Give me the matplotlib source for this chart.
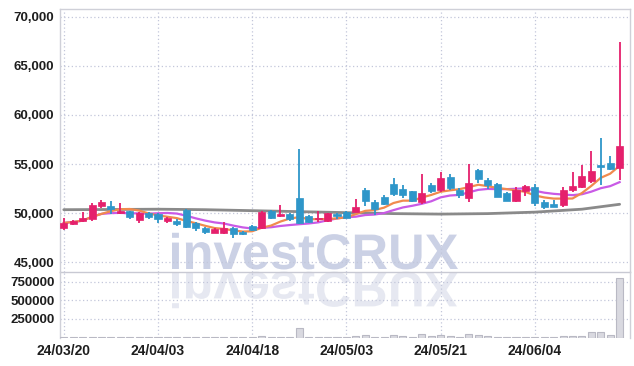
import numpy as np
import pandas as pd
import matplotlib
matplotlib.use("Agg")
import matplotlib.pyplot as plt
from matplotlib.textpath import TextPath
from matplotlib.patches import PathPatch
from matplotlib.font_manager import FontProperties
from matplotlib.transforms import Affine2D
from matplotlib.ticker import FuncFormatter

# ---------------- data ----------------
opens = [48500, 48900, 49200, 49400, 50700, 50700, 50000, 50200, 49300, 50000,
         49900, 49200, 49200, 50300, 48950, 48500, 48000, 47950, 48450, 48100,
         48700, 48450, 50200, 49700, 49900, 51500, 49700, 49400, 49200, 49900,
         50150, 50150, 52350, 51100, 51650, 52950, 52450, 52250, 51150, 52850,
         52350, 53650, 52400, 51500, 54400, 53350, 52950, 52100, 51250, 52300,
         52650, 51150, 50950, 50800, 52350, 52700, 53250, 54850, 55150, 54550]
highs = [49500, 49300, 50100, 51000, 51300, 51200, 51000, 50250, 50100, 50150,
         50050, 49650, 49350, 50400, 49100, 48600, 48500, 49100, 48600, 48200,
         48800, 50200, 50300, 50800, 50000, 56500, 49800, 50250, 50050, 50000,
         50200, 51400, 52550, 51300, 51800, 53550, 52850, 52300, 54000, 53100,
         54150, 53950, 52600, 55050, 54450, 53550, 53100, 52150, 52650, 52850,
         53000, 51350, 51300, 52650, 54200, 54900, 56300, 57700, 55800, 67400]
lows = [48300, 48800, 49100, 49200, 50500, 49900, 49950, 49400, 49000, 49450,
        48950, 49000, 48700, 48500, 48200, 47900, 47950, 47900, 47500, 47750,
        48150, 48400, 49450, 49650, 49200, 48900, 49000, 49100, 49100, 49400,
        49500, 50100, 50700, 49800, 50800, 51700, 51500, 51150, 50900, 52000,
        52200, 52350, 51500, 51150, 53050, 52500, 51600, 51200, 51150, 51750,
        50700, 50450, 50600, 50650, 52150, 52600, 53100, 52850, 54400, 53350]
closes = [49000, 49200, 49500, 50800, 51100, 50400, 50200, 49600, 50000, 49650,
          49400, 49500, 48900, 48600, 48450, 48100, 48350, 48450, 47850, 47850,
          48250, 50150, 49550, 49900, 49400, 48950, 49100, 49550, 50000, 49700,
          49550, 50650, 51250, 50400, 50950, 51900, 51850, 51250, 52000, 52250,
          53550, 52550, 51850, 53050, 53450, 52850, 51650, 51250, 52350, 52750,
          51000, 50650, 50650, 52350, 52800, 53800, 54300, 54750, 54450, 56850]
volumes = [8000, 6000, 7000, 12000, 9000, 6000, 5000, 6000, 8000, 5000,
           6000, 5000, 5000, 10000, 6000, 5000, 5000, 8000, 6000, 5000,
           6000, 20000, 9000, 8000, 7000, 130000, 8000, 9000, 8000, 6000,
           7000, 20000, 30000, 12000, 10000, 30000, 20000, 12000, 50000, 15000,
           30000, 15000, 10000, 45000, 30000, 20000, 10000, 8000, 12000, 10000,
           12000, 8000, 6000, 15000, 20000, 20000, 80000, 80000, 35000, 800000]
# long moving average (MA60) every 5 sessions
ma60_idx = [0, 5, 10, 15, 20, 25, 30, 35, 40, 45, 50, 55, 59]
ma60_val = [50350, 50370, 50400, 50350, 50250, 50150, 50050, 49950, 49900, 49950, 50100, 50400, 50900]

tick_idx = [0, 10, 20, 30, 40, 50]
tick_labels = ["24/03/20", "24/04/03", "24/04/18", "24/05/03", "24/05/21", "24/06/04"]
price_ticks = [45000, 50000, 55000, 60000, 65000, 70000]
volume_ticks = [250000, 500000, 750000]

# ---------------- styling ----------------
UP = "#e5206c"
DOWN = "#2e96c9"
MA5_C = "#f08a4e"
MA10_C = "#c95ae6"
MA60_C = "#8a8a8a"
GRID_C = "#c3c7da"
SPINE_C = "#cfd0d8"
TEXT_C = "#1e1e1e"

W, H = 634, 366
fig = plt.figure(figsize=(W / 100, H / 100), dpi=100)
fig.patch.set_facecolor("white")

left, right = 60, 630
p_top, p_bot = 9, 272
v_bot = 337.5

def fy(y):
    return 1 - y / H

# watermark layer (behind the charts)
wm = fig.add_axes([0, 0, 1, 1], zorder=0)
wm.set_xlim(0, W)
wm.set_ylim(H, 0)
wm.axis("off")
fp = FontProperties(family="Liberation Sans", weight="bold")
tp = TextPath((0, 0), "investCRUX", size=50, prop=fp)
bb = tp.get_extents()
sx = 286 / bb.width
base_y = 269
tr = Affine2D().scale(sx, -1.0).translate(172 - bb.x0 * sx, base_y)
wm.add_patch(PathPatch(tr.transform_path(tp), facecolor="#c6cce3", edgecolor="none", alpha=0.9))
tr2 = Affine2D().scale(sx, 1.0).translate(172 - bb.x0 * sx, base_y + 3)
wm.add_patch(PathPatch(tr2.transform_path(tp), facecolor="#e0e3ee", edgecolor="none", alpha=0.8))

axp = fig.add_axes([left / W, fy(p_bot), (right - left) / W, (p_bot - p_top) / H], zorder=2)
axv = fig.add_axes([left / W, fy(v_bot), (right - left) / W, (v_bot - p_bot) / H], zorder=2, sharex=axp)
for ax in (axp, axv):
    ax.set_facecolor("none")
    for s in ax.spines.values():
        s.set_color(SPINE_C)
        s.set_linewidth(1.0)

x = np.arange(len(closes))
o = np.array(opens, float)
c = np.array(closes, float)
hi = np.array(highs, float)
lo = np.array(lows, float)
up = c >= o
cols = np.where(up, UP, DOWN)

# grid
for ax in (axp, axv):
    ax.grid(True, color=GRID_C, linestyle=(0, (1, 2)), linewidth=0.9)
    ax.set_axisbelow(True)

# moving averages
ma5 = pd.Series(c).rolling(5, min_periods=1).mean()
ma10 = pd.Series(c).rolling(10, min_periods=1).mean()
axp.plot(ma60_idx, ma60_val, color=MA60_C, lw=2.0, zorder=3, solid_capstyle="round")
axp.plot(x, ma10, color=MA10_C, lw=1.6, zorder=3)
axp.plot(x, ma5, color=MA5_C, lw=1.6, zorder=3)

# candles
axp.vlines(x, lo, hi, colors=cols, lw=1.3, zorder=4)
body_h = np.maximum(np.abs(c - o), 120)
axp.bar(x, body_h, bottom=np.minimum(o, c), width=0.75, color=cols, edgecolor=cols, lw=0.5, zorder=5)

axp.set_ylim(44000, 70800)
axp.set_yticks(price_ticks)
axp.yaxis.set_major_formatter(FuncFormatter(lambda v, p: f"{int(v):,}"))
axp.set_xlim(-0.4, 60.1)
axp.set_xticks(tick_idx)
axp.tick_params(axis="x", labelbottom=False, length=0)
axp.tick_params(axis="y", length=0, pad=4, labelsize=9.5, colors=TEXT_C)
axp.spines["bottom"].set_color("#c8c9d3")

# volume
axv.bar(x, volumes, width=0.75, color="#d9d9e0", edgecolor="#b9b9c4", lw=0.8, zorder=3)
axv.set_ylim(0, 880000)
axv.set_yticks(volume_ticks)
axv.yaxis.set_major_formatter(FuncFormatter(lambda v, p: f"{int(v)}"))
axv.set_xticks(tick_idx)
axv.set_xticklabels(tick_labels)
axv.tick_params(axis="x", length=0, pad=5, labelsize=10, colors=TEXT_C)
axv.tick_params(axis="y", length=0, pad=4, labelsize=9.5, colors=TEXT_C)
axv.spines["top"].set_visible(False)
axv.spines["bottom"].set_visible(False)

for lab in axp.get_yticklabels() + axv.get_yticklabels() + axv.get_xticklabels():
    lab.set_family("Liberation Sans")
    lab.set_fontweight("semibold")

fig.savefig("out.png", dpi=100, facecolor="white")
